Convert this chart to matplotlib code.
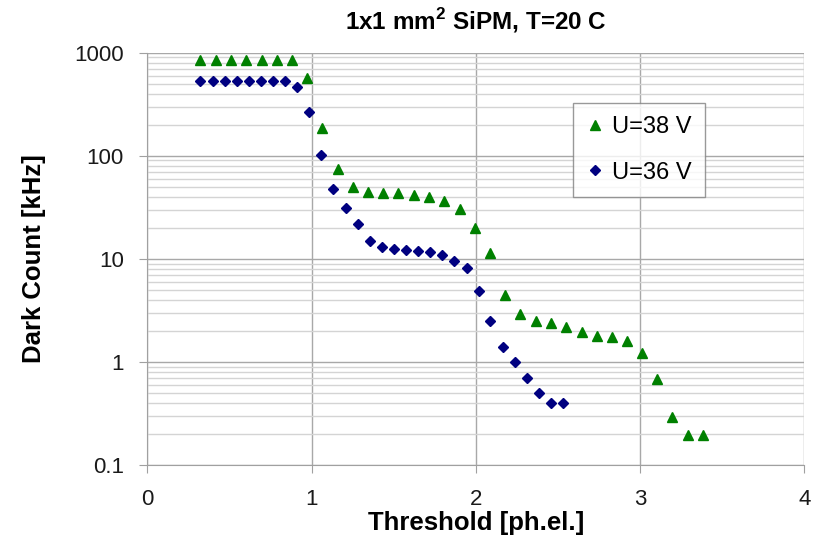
import matplotlib.pyplot as plt
from matplotlib.ticker import FixedLocator, FixedFormatter, LogLocator, NullFormatter

plt.rcParams['font.family'] = ['Liberation Sans', 'DejaVu Sans']
plt.rcParams['mathtext.fontset'] = 'custom'
plt.rcParams['mathtext.rm'] = 'Liberation Sans'
plt.rcParams['mathtext.bf'] = 'Liberation Sans:bold'

# U=38 V (green triangles)
x38 = [0.321, 0.418, 0.510, 0.601, 0.698, 0.790, 0.881, 0.975, 1.064, 1.161,
       1.252, 1.344, 1.435, 1.529, 1.624, 1.715, 1.806, 1.904, 1.995, 2.087,
       2.178, 2.269, 2.366, 2.458, 2.549, 2.646, 2.738, 2.829, 2.920, 3.012,
       3.103, 3.194, 3.291, 3.383]
y38 = [850, 850, 850, 850, 850, 850, 850, 570, 187, 74,
       50, 45, 44, 44, 42, 39.7, 36.7, 30.7, 19.7, 11.3,
       4.5, 2.9, 2.5, 2.4, 2.17, 1.93, 1.78, 1.73, 1.59, 1.21,
       0.69, 0.29, 0.195, 0.195]

# U=36 V (blue diamonds)
x36 = [0.323, 0.400, 0.473, 0.546, 0.619, 0.692, 0.765, 0.838, 0.913, 0.984,
       1.057, 1.132, 1.208, 1.281, 1.354, 1.431, 1.502, 1.575, 1.648, 1.721,
       1.796, 1.869, 1.945, 2.018, 2.088, 2.164, 2.241, 2.312, 2.383, 2.458,
       2.531]
y36 = [530, 530, 530, 530, 530, 530, 530, 530, 464, 263,
       102, 48, 31, 22, 15, 13.1, 12.5, 12.1, 11.8, 11.6,
       10.8, 9.6, 8.2, 4.9, 2.5, 1.4, 1.0, 0.70, 0.50, 0.40,
       0.40]

yticks = [0.1, 1, 10, 100, 1000]
ylabels = ['0.1', '1', '10', '100', '1000']
xticks = [0, 1, 2, 3, 4]

fig = plt.figure(figsize=(8.21, 5.42), dpi=100)
ax = fig.add_axes([0.1794, 0.1421, 0.8003, 0.7607])

ax.plot(x38, y38, linestyle='none', marker='^', ms=7, color='#008000',
        label='U=38 V', zorder=3)
ax.plot(x36, y36, linestyle='none', marker='D', ms=5.5, color='#000080',
        label='U=36 V', zorder=3)

ax.set_yscale('log')
ax.set_xlim(0, 4)
ax.set_ylim(0.1, 1000)
ax.yaxis.set_major_locator(FixedLocator(yticks))
ax.yaxis.set_major_formatter(FixedFormatter(ylabels))
ax.yaxis.set_minor_locator(LogLocator(base=10, subs=range(2, 10)))
ax.yaxis.set_minor_formatter(NullFormatter())
ax.set_xticks(xticks)

ax.grid(True, which='major', color='#a8a8a8', linewidth=1.0)
ax.grid(True, which='minor', axis='y', color='#d4d4d4', linewidth=1.0)
ax.set_axisbelow(True)

for s in ['top', 'right']:
    ax.spines[s].set_visible(False)
for s in ['left', 'bottom']:
    ax.spines[s].set_color('#a0a0a0')

ax.tick_params(axis='both', which='major', direction='out', length=6,
               color='#a0a0a0', labelsize=16, labelcolor='#1a1a1a')
ax.tick_params(axis='y', which='major', pad=11)
ax.tick_params(axis='x', which='major', pad=11)
ax.tick_params(axis='y', which='minor', length=0)

ax.set_xlabel('Threshold [ph.el.]', fontsize=18.5, fontweight='bold', labelpad=1)
ax.set_ylabel('Dark Count [kHz]', fontsize=18.5, fontweight='bold', labelpad=20)
ax.set_title('1x1 mm$^\\mathbf{2}$ SiPM, T=20 C', fontsize=17.5, fontweight='bold',
             pad=17)

leg = ax.legend(loc='upper left', bbox_to_anchor=(0.648, 0.878), borderaxespad=0,
                fontsize=17, frameon=True, fancybox=False, handlelength=0.8,
                handletextpad=0.3, labelspacing=1.0, borderpad=0.55)
leg.get_frame().set_edgecolor('#808080')
leg.get_frame().set_linewidth(1.0)

plt.savefig('out.png', dpi=100)
